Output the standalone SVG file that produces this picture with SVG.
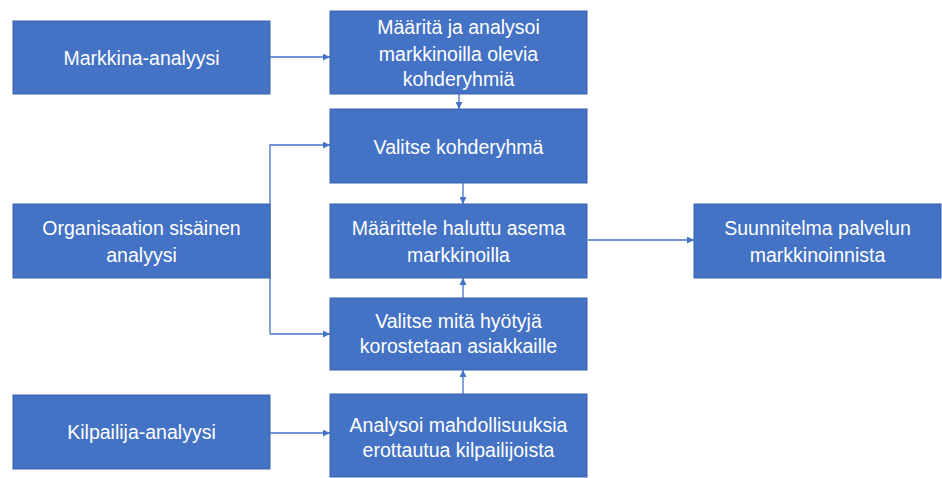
<svg xmlns="http://www.w3.org/2000/svg" width="942" height="478" viewBox="0 0 942 478">
  <style>
    .box { fill: #4472C4; stroke: #3A62AA; stroke-width: 1; }
    .lbl { font-family: "Liberation Sans", Arial, sans-serif; font-size: 19.5px; fill: #FFFFFF; text-anchor: middle; }
    .edge { fill: none; stroke: #4472C4; stroke-width: 1.3; }
  </style>
  <defs>
    <marker id="arrow" viewBox="0 0 10 10" refX="10" refY="5" markerWidth="7" markerHeight="7" markerUnits="userSpaceOnUse" orient="auto">
      <path d="M0,0 L10,5 L0,10 Z" fill="#4472C4"/>
    </marker>
  </defs>
  <rect width="942" height="478" fill="#FFFFFF"/>

  <g id="connectors">
    <path class="edge" d="M270,57 H330" marker-end="url(#arrow)"/>
    <path class="edge" d="M459,94 V109" marker-end="url(#arrow)"/>
    <path class="edge" d="M463,183 V204" marker-end="url(#arrow)"/>
    <path class="edge" d="M463,298 V278" marker-end="url(#arrow)"/>
    <path class="edge" d="M463,394 V370" marker-end="url(#arrow)"/>
    <path class="edge" d="M270,334 V145 H330" marker-end="url(#arrow)"/>
    <path class="edge" d="M270,334 H330" marker-end="url(#arrow)"/>
    <path class="edge" d="M270,433 H330" marker-end="url(#arrow)"/>
    <path class="edge" d="M588,240 H694" marker-end="url(#arrow)"/>
  </g>

  <g id="markkina-analyysi">
    <rect class="box" x="13" y="21" width="257" height="73"/>
    <text class="lbl" x="141.5" y="64.5">Markkina-analyysi</text>
  </g>

  <g id="organisaation-analyysi">
    <rect class="box" x="13" y="204" width="257" height="74"/>
    <text class="lbl" x="141.5" y="235">Organisaation sisäinen</text>
    <text class="lbl" x="141.5" y="261.5">analyysi</text>
  </g>

  <g id="kilpailija-analyysi">
    <rect class="box" x="13" y="395" width="257" height="74"/>
    <text class="lbl" x="141.5" y="439">Kilpailija-analyysi</text>
  </g>

  <g id="maarita-kohderyhmat">
    <rect class="box" x="330" y="11" width="257" height="83"/>
    <text class="lbl" x="458.5" y="34">Määritä ja analysoi</text>
    <text class="lbl" x="458.5" y="60.5">markkinoilla olevia</text>
    <text class="lbl" x="458.5" y="86">kohderyhmiä</text>
  </g>

  <g id="valitse-kohderyhma">
    <rect class="box" x="330" y="109" width="257" height="74"/>
    <text class="lbl" x="458.5" y="154">Valitse kohderyhmä</text>
  </g>

  <g id="maarittele-asema">
    <rect class="box" x="330" y="204" width="257" height="74"/>
    <text class="lbl" x="458.5" y="235">Määrittele haluttu asema</text>
    <text class="lbl" x="458.5" y="261.5">markkinoilla</text>
  </g>

  <g id="valitse-hyodyt">
    <rect class="box" x="330" y="298" width="257" height="72"/>
    <text class="lbl" x="458.5" y="327.5">Valitse mitä hyötyjä</text>
    <text class="lbl" x="458.5" y="353">korostetaan asiakkaille</text>
  </g>

  <g id="analysoi-erottautuminen">
    <rect class="box" x="330" y="394" width="257" height="83"/>
    <text class="lbl" x="458.5" y="431.5">Analysoi mahdollisuuksia</text>
    <text class="lbl" x="458.5" y="456.5">erottautua kilpailijoista</text>
  </g>

  <g id="suunnitelma">
    <rect class="box" x="694" y="204" width="247" height="74"/>
    <text class="lbl" x="817.5" y="235">Suunnitelma palvelun</text>
    <text class="lbl" x="817.5" y="261.5">markkinoinnista</text>
  </g>
</svg>
